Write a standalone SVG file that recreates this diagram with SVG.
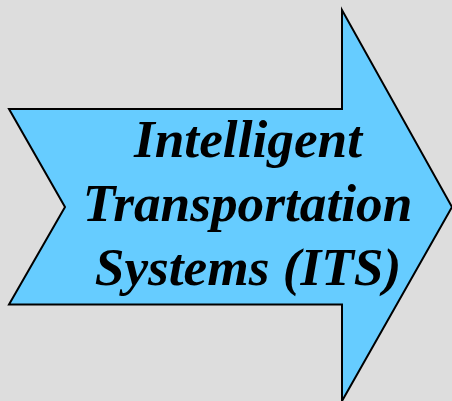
<svg xmlns="http://www.w3.org/2000/svg" width="452" height="401" viewBox="0 0 452 401">
<style>
.t{font-family:"Liberation Serif","Times New Roman",serif;font-weight:bold;font-style:italic;font-size:53.3px;fill:#000;text-anchor:middle}
</style>
<rect width="452" height="401" fill="#dddddd"/>
<g id="arrow">
<path d="M9 109H342V10L452 207L342 401V304.500H9L65 207Z" fill="#66ccff" stroke="#000" stroke-width="2" stroke-linejoin="miter"/>
<text class="t" x="248" y="157">Intelligent</text>
<text class="t" x="247.500" y="221">Transportation</text>
<text class="t" x="248" y="285">Systems (ITS)</text>
</g>
</svg>
